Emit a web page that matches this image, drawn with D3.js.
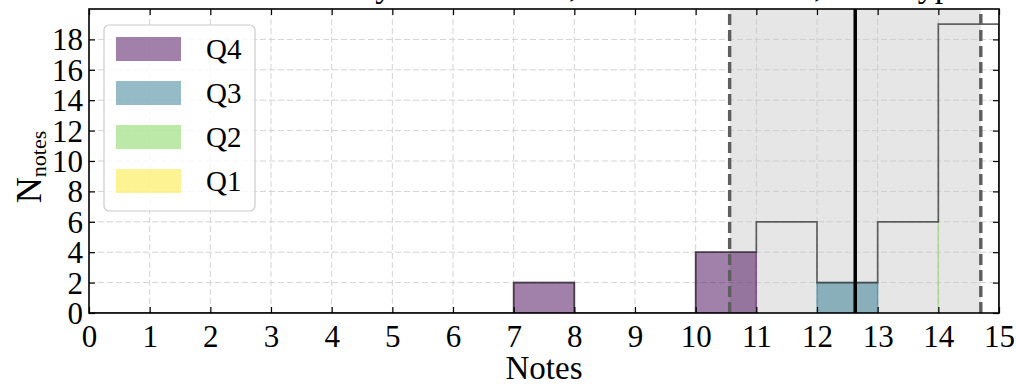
<!DOCTYPE html>
<html>
<head>
<meta charset="utf-8">
<script src="https://cdn.jsdelivr.net/npm/d3@7"></script>
<style>
  html, body { margin: 0; padding: 0; background: #fff; }
  svg { display: block; font-family: "Liberation Serif", "DejaVu Serif", serif; }
  .grid line { stroke: #d3d3d3; stroke-width: 1; stroke-dasharray: 6,3; }
</style>
</head>
<body>
<svg id="chart" width="1016" height="385"></svg>
<script>
/* histogram of notes by quartile, total as a step outline,
   mean (solid) and mean +/- std (dashed, shaded between) */
const quartiles = ['Q4', 'Q3', 'Q2', 'Q1'];
const qColors = { Q4: '#440154', Q3: '#2a788e', Q2: '#7ad151', Q1: '#fde725' };

// per-quartile bins: [x0, x1, count]
const binsQ4 = [[7, 8, 2], [10, 11, 4]];
const binsQ3 = [[12, 13, 2]];
const binsQ2 = [[14, 14, 6]];
const binsQ1 = [];

// total histogram (step outline), one count per unit bin 0..15
const totalEdges = d3.range(0, 16);
const totalCounts = [0, 0, 0, 0, 0, 0, 0, 2, 0, 0, 4, 6, 2, 6, 19];

const meanNote = 12.63;
const lowNote = 10.56, highNote = 14.70;

const xTicks = d3.range(0, 16);
const yTicks = d3.range(0, 20, 2);
const titleText = 'Moyenne = 12.63, médiane = 13.00, écart-type = 2.07';

const M = { t: 9, r: 17, b: 72, l: 89 };
const W = 1016, H = 385;
const svg = d3.select('#chart');
const x = d3.scaleLinear().domain([0, 15]).range([M.l, W - M.r]);
const y = d3.scaleLinear().domain([0, 20]).range([H - M.b, M.t]);

svg.append('defs').append('clipPath').attr('id', 'clip')
  .append('rect').attr('x', M.l).attr('y', M.t)
  .attr('width', x(15) - M.l).attr('height', y(0) - M.t);

const plot = svg.append('g').attr('clip-path', 'url(#clip)');

// grid
const grid = plot.append('g').attr('class', 'grid');
grid.selectAll('.gx').data(xTicks.slice(1, -1)).join('line')
  .attr('x1', d => x(d)).attr('x2', d => x(d)).attr('y1', y(0)).attr('y2', y(20));
grid.selectAll('.gy').data(yTicks.slice(1)).join('line')
  .attr('y1', d => y(d)).attr('y2', d => y(d)).attr('x1', x(0)).attr('x2', x(15));

// shaded mean +/- std
plot.append('rect')
  .attr('x', x(lowNote)).attr('y', y(20))
  .attr('width', x(highNote) - x(lowNote)).attr('height', y(0) - y(20))
  .attr('fill', '#c8c8c8').attr('fill-opacity', 0.45);

// stacked quartile bars (paths so a zero-width bin still shows its edge)
const qBins = { Q4: binsQ4, Q3: binsQ3, Q2: binsQ2, Q1: binsQ1 };
const barPath = d => `M${x(d[0])},${y(0)}V${y(d[2])}H${x(d[1])}V${y(0)}Z`;
quartiles.forEach(q => {
  plot.append('g').selectAll('path').data(qBins[q]).join('path')
    .attr('d', barPath)
    .attr('fill', qColors[q]).attr('fill-opacity', 0.5)
    .attr('stroke', qColors[q]).attr('stroke-opacity', 0.5).attr('stroke-width', 1.5);
});

// total step outline
const stepPts = [];
totalCounts.forEach((c, i) => {
  stepPts.push([totalEdges[i], c], [totalEdges[i + 1], c]);
});
stepPts.unshift([0, 0]); stepPts.push([15, 0]);
plot.append('path')
  .attr('d', d3.line().x(d => x(d[0])).y(d => y(d[1]))(stepPts))
  .attr('fill', 'none').attr('stroke', '#333').attr('stroke-opacity', 0.75)
  .attr('stroke-width', 1.7);

// mean and +/- std lines
plot.selectAll('.std').data([lowNote, highNote]).join('line')
  .attr('x1', d => x(d)).attr('x2', d => x(d)).attr('y1', y(0)).attr('y2', y(20))
  .attr('stroke', '#5e5e5e').attr('stroke-width', 3.4).attr('stroke-dasharray', '11,5');
plot.append('line')
  .attr('x1', x(meanNote)).attr('x2', x(meanNote)).attr('y1', y(0)).attr('y2', y(20))
  .attr('stroke', '#000').attr('stroke-width', 3.5);

// axes: inward ticks on all four sides
const tk = 6;
const axB = svg.append('g').attr('transform', `translate(0,${y(0)})`)
  .call(d3.axisBottom(x).tickValues(xTicks).tickSizeInner(-tk).tickSizeOuter(0).tickPadding(10));
const axT = svg.append('g').attr('transform', `translate(0,${y(20)})`)
  .call(d3.axisTop(x).tickValues(xTicks).tickSizeInner(-tk).tickSizeOuter(0).tickFormat(''));
const axL = svg.append('g').attr('transform', `translate(${x(0)},0)`)
  .call(d3.axisLeft(y).tickValues(yTicks).tickSizeInner(-tk).tickSizeOuter(0).tickPadding(6));
const axR = svg.append('g').attr('transform', `translate(${x(15)},0)`)
  .call(d3.axisRight(y).tickValues(yTicks).tickSizeInner(-tk).tickSizeOuter(0).tickFormat(''));
[axB, axT, axL, axR].forEach(a => {
  a.attr('font-family', 'Liberation Serif').attr('font-size', 31);
  a.select('.domain').remove();
  a.selectAll('line').attr('stroke', '#000').attr('stroke-width', 1.2);
  a.selectAll('text').attr('fill', '#000').attr('font-family', 'Liberation Serif');
});
axB.selectAll('text').attr('dy', '0.76em');
axL.selectAll('text').attr('dy', '0.34em');

// spines
svg.append('rect').attr('x', x(0)).attr('y', y(20))
  .attr('width', x(15) - x(0)).attr('height', y(0) - y(20))
  .attr('fill', 'none').attr('stroke', '#000').attr('stroke-width', 1.6);

// labels
svg.append('text').attr('x', (x(0) + x(15)) / 2).attr('y', 379)
  .attr('text-anchor', 'middle').attr('font-size', 33).text('Notes');
const yl = svg.append('text')
  .attr('transform', `translate(41,${(y(0) + y(20)) / 2 + 6}) rotate(-90)`)
  .attr('text-anchor', 'middle');
yl.append('tspan').attr('font-size', 36).text('N');
yl.append('tspan').attr('font-size', 22).attr('dy', 5).text('notes');

// title (sits above the canvas, only its descenders show)
svg.append('text').attr('x', 328).attr('y', -3)
  .attr('font-size', 34).text(titleText);

// legend
const lg = svg.append('g');
lg.append('rect').attr('x', 104).attr('y', 25).attr('width', 151).attr('height', 186)
  .attr('rx', 5).attr('fill', '#fff').attr('fill-opacity', 0.8)
  .attr('stroke', '#ccc').attr('stroke-width', 1.2);
const ly = d3.scalePoint().domain(quartiles).range([49, 181]);
lg.selectAll('.lp').data(quartiles).join('rect')
  .attr('x', 116).attr('y', d => ly(d) - 12).attr('width', 65).attr('height', 24)
  .attr('fill', d => qColors[d]).attr('fill-opacity', 0.5);
lg.selectAll('.lt').data(quartiles).join('text')
  .attr('x', 206).attr('y', d => ly(d) + 10)
  .attr('font-size', 29).text(d => d);
</script>
</body>
</html>
